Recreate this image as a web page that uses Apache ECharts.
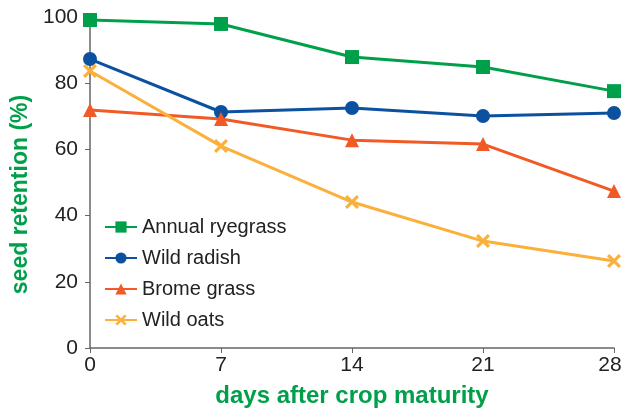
<!DOCTYPE html>
<html>
<head>
<meta charset="utf-8">
<script src="https://cdn.jsdelivr.net/npm/echarts@6/dist/echarts.min.js"></script>
<style>
  html, body { margin: 0; padding: 0; background: #fff; }
  #chart { width: 623px; height: 410px; }
</style>
</head>
<body>
<div id="chart"></div>
<script>
const days = [0, 7, 14, 21, 28];
const yTicks = [0, 20, 40, 60, 80, 100];
const annualRyegrass = [99.1, 97.9, 87.9, 84.9, 77.6];
const wildRadish = [87.3, 71.3, 72.5, 70.1, 71.0];
const bromeGrass = [71.9, 69.2, 62.8, 61.6, 47.4];
const wildOats = [83.7, 61.0, 44.1, 32.3, 26.3];

const green = "#00a04b";
const font = "Liberation Sans, Arial, sans-serif";
const crossPath = "path://M0,1.6L1.6,0L5,3.4L8.4,0L10,1.6L6.6,5L10,8.4L8.4,10L5,6.6L1.6,10L0,8.4L3.4,5Z";

function pairs(vals) {
  return vals.map((v, i) => [days[i], v]);
}

const seriesDefs = [
  { name: "Annual ryegrass", data: annualRyegrass, color: "#00a04b", symbol: "rect", size: 14 },
  { name: "Wild radish", data: wildRadish, color: "#0b519f", symbol: "circle", size: 14 },
  { name: "Brome grass", data: bromeGrass, color: "#f15a24", symbol: "triangle", size: 14 },
  { name: "Wild oats", data: wildOats, color: "#fbb03b", symbol: crossPath, size: 14 },
];

const chart = echarts.init(document.getElementById("chart"), null, { renderer: "canvas" });
chart.setOption({
  animation: false,
  grid: { left: 90, right: 9, top: 17, bottom: 62, containLabel: false, outerBoundsMode: "none" },
  legend: {
    left: 99,
    top: 212,
    orient: "vertical",
    itemGap: 11,
    itemWidth: 32,
    itemHeight: 14,
    textStyle: { fontFamily: font, fontSize: 20, color: "#222" },
    data: seriesDefs.map((s) => s.name),
  },
  xAxis: {
    type: "value",
    min: 0,
    max: 28,
    interval: 7,
    name: "days after crop maturity",
    nameLocation: "middle",
    nameGap: 36,
    nameTextStyle: { fontFamily: font, fontSize: 24, fontWeight: "bold", color: green },
    axisLine: { lineStyle: { color: "#666", width: 1.5 } },
    axisTick: { show: true, length: 5, lineStyle: { color: "#666" } },
    axisLabel: {
      fontFamily: font, fontSize: 21, color: "#222", margin: 7,
      formatter: (v) => (v === days[days.length - 1] ? "{r|" + v + "}" : String(v)),
      rich: { r: { fontFamily: font, fontSize: 21, color: "#222", padding: [0, 8, 0, 0] } },
    },
    splitLine: { show: false },
  },
  yAxis: {
    type: "value",
    min: 0,
    max: 100,
    interval: 20,
    name: "seed retention (%)",
    nameLocation: "middle",
    nameGap: 55,
    nameTextStyle: {
      fontFamily: font, fontSize: 23, fontWeight: "bold", color: green,
      padding: [0, 24, 0, 0],
    },
    axisLine: { show: true, lineStyle: { color: "#666", width: 1.5 } },
    axisTick: { show: true, length: 5, lineStyle: { color: "#666" } },
    axisLabel: { fontFamily: font, fontSize: 21, color: "#222", margin: 12 },
    splitLine: { show: false },
  },
  series: seriesDefs.map((s) => ({
    name: s.name,
    type: "line",
    data: pairs(s.data),
    symbol: s.symbol,
    symbolSize: s.size,
    showAllSymbol: true,
    clip: false,
    lineStyle: { color: s.color, width: 3 },
    itemStyle: { color: s.color },
  })),
});
</script>
</body>
</html>
